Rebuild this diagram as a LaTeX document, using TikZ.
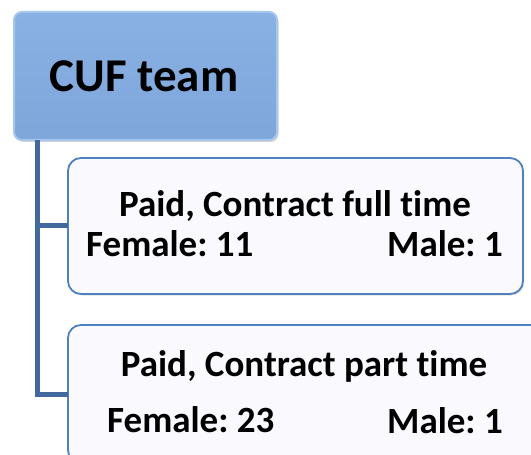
\documentclass[tikz,border=0pt]{standalone}
\usepackage{fontspec}
\setmainfont{Carlito}[RawFeature={-liga;-dlig;-calt;-clig}]
\usetikzlibrary{shadows}
\definecolor{topfill}{HTML}{7FA6DA}
\definecolor{topfillhi}{HTML}{8AB1E4}
\definecolor{topedge}{HTML}{A6C6EE}
\definecolor{boxfill}{HTML}{FAFAFE}
\definecolor{boxedge}{HTML}{4F81BD}
\definecolor{connc}{HTML}{41699E}
\tikzset{
  topbox/.style={draw=topedge, line width=2bp, top color=topfillhi, bottom color=topfill, rounded corners=8bp,
    drop shadow={shadow xshift=1.5bp, shadow yshift=-2bp, opacity=0.35}},
  childbox/.style={draw=boxedge, line width=1.8bp, fill=boxfill, rounded corners=13bp,
    drop shadow={shadow xshift=1bp, shadow yshift=-1.5bp, opacity=0.25}},
  conn/.style={draw=connc, line width=5bp},
  bigtxt/.style={font=\fontsize{47bp}{50bp}\selectfont\bfseries, inner sep=0pt, anchor=base},
  txt/.style={font=\fontsize{37bp}{40bp}\selectfont\bfseries\frenchspacing, inner sep=0pt, anchor=base},
}
\begin{document}
\begin{tikzpicture}[x=1bp,y=-1bp]
\useasboundingbox (0,0) rectangle (531,455);
\clip (0,0) rectangle (531,455);
\fill[white] (0,0) rectangle (531,455);
% boxes
\path[topbox] (14,12) rectangle (277,140);
\node[minimum width=263bp, minimum height=128bp, inner sep=0pt] (top) at (145.5,76) {};
\path[childbox] (68,158) rectangle (523,294);
\node[minimum width=455bp, minimum height=136bp, inner sep=0pt] (b1) at (295.5,226) {};
\path[childbox] (68,325) rectangle (548,463);
\node[minimum width=480bp, minimum height=138bp, inner sep=0pt] (b2) at (308,394) {};
\coordinate (sx) at (37.5,0);
% connectors
\draw[conn, line cap=butt, line join=miter] (top.south -| sx) -- (b2.west -| sx) -- (b2.west);
\draw[conn, line cap=butt] (b1.west -| sx) -- (b1.west);
% texts
\node[bigtxt] (t0) at (144,92) {CUF team};
\node[txt] (t1) at (295,217) {Paid, Contract full time};
\node[txt, anchor=base west] (t2) at (86,257) {Female: 11};
\node[txt, anchor=base east] (t3) at (503,257) {Male: 1};
\node[txt] (t4) at (304,376) {Paid, Contract part time};
\node[txt, anchor=base west] (t5) at (107,432) {Female: 23};
\node[txt, anchor=base east] (t6) at (503,433) {Male: 1};
\end{tikzpicture}
\end{document}
